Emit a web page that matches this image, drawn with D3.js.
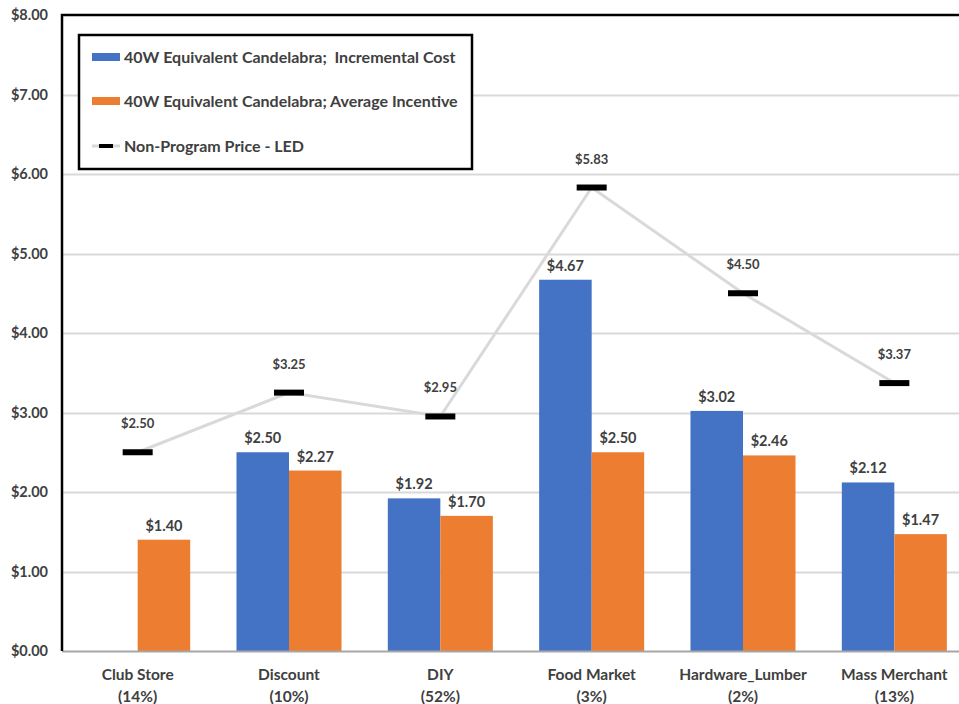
<!DOCTYPE html>
<html>
<head>
<meta charset="utf-8">
<script src="https://cdn.jsdelivr.net/npm/d3@7"></script>
<style>
  html, body { margin: 0; padding: 0; background: #fff; }
  svg { display: block; }
  text { font-family: Lato, "Open Sans", sans-serif; font-weight: bold; fill: #404040; }
</style>
</head>
<body>
<svg id="chart" width="959" height="704"></svg>
<script>
// Channel names and their share of sales
const categories = ["Club Store", "Discount", "DIY", "Food Market", "Hardware_Lumber", "Mass Merchant"];
const shares = ["(14%)", "(10%)", "(52%)", "(3%)", "(2%)", "(13%)"];
// 40W equivalent candelabra bulbs ($ per bulb)
const incrementalCost = [null, 2.50, 1.92, 4.67, 3.02, 2.12];
const averageIncentive = [1.40, 2.27, 1.70, 2.50, 2.46, 1.47];
const nonProgramPrice = [2.50, 3.25, 2.95, 5.83, 4.50, 3.37];
const yTicks = [0, 1, 2, 3, 4, 5, 6, 7, 8];
const seriesNames = ["40W Equivalent Candelabra;  Incremental Cost",
                     "40W Equivalent Candelabra; Average Incentive",
                     "Non-Program Price - LED"];

const blue = "#4472C4", orange = "#ED7D31", grid = "#d9d9d9";

const svg = d3.select("#chart");
const plotL = 62, plotR = 970, plotT = 15, plotB = 651;

const x = d3.scaleBand().domain(categories).range([plotL, plotR]);
const y = d3.scaleLinear().domain([0, 8]).range([plotB, plotT]);
const groupW = x.bandwidth() * 0.694;
const xs = d3.scaleBand().domain([0, 1]).range([0, groupW]);
const cx = c => x(c) + x.bandwidth() / 2;

// horizontal gridlines
svg.append("g").selectAll("line").data(yTicks.slice(1, -1)).join("line")
  .attr("x1", plotL).attr("x2", 959)
  .attr("y1", d => Math.round(y(d)) + 0.5).attr("y2", d => Math.round(y(d)) + 0.5)
  .attr("stroke", grid).attr("stroke-width", 2);

// y axis labels
const yAxis = d3.axisLeft(y).tickValues(yTicks).tickSize(0).tickPadding(14)
  .tickFormat(d => "$" + d3.format(".2f")(d));
const ya = svg.append("g").attr("transform", `translate(${plotL},0)`).call(yAxis);
ya.select(".domain").remove();
ya.selectAll("text").style("font-size", "14.5px").attr("fill", "#404040")
  .style("font-family", "Lato, sans-serif").style("font-weight", "bold");

// bars
const series = [incrementalCost, averageIncentive];
const colors = [blue, orange];
series.forEach((vals, si) => {
  const g = svg.append("g");
  const pts = categories.map((c, i) => ({ c, v: vals[i] })).filter(d => d.v != null);
  g.selectAll("rect").data(pts).join("rect")
    .attr("x", d => cx(d.c) - groupW / 2 + xs(si))
    .attr("width", xs.bandwidth())
    .attr("y", d => y(d.v))
    .attr("height", d => y(0) - y(d.v))
    .attr("fill", colors[si]);
  g.selectAll("text").data(pts).join("text")
    .attr("x", d => cx(d.c) - groupW / 2 + xs(si) + xs.bandwidth() / 2)
    .attr("y", d => y(d.v) - 9)
    .attr("text-anchor", "middle")
    .style("font-size", "14.5px")
    .text(d => "$" + d.v.toFixed(2));
});

// x axis baseline
svg.append("line").attr("x1", plotL).attr("x2", 959)
  .attr("y1", plotB + 0.5).attr("y2", plotB + 0.5)
  .attr("stroke", "#a6a6a6").attr("stroke-width", 2);

// non-program price line with dash markers
const line = d3.line().x((d, i) => cx(categories[i])).y(d => y(d));
svg.append("path").datum(nonProgramPrice).attr("d", line)
  .attr("fill", "none").attr("stroke", "#d9d9d9").attr("stroke-width", 3);
svg.append("g").selectAll("rect").data(nonProgramPrice).join("rect")
  .attr("x", (d, i) => cx(categories[i]) - 15).attr("width", 30)
  .attr("y", d => y(d) - 3).attr("height", 6).attr("fill", "#000");
svg.append("g").selectAll("text").data(nonProgramPrice).join("text")
  .attr("x", (d, i) => cx(categories[i])).attr("y", d => y(d) - 24)
  .attr("text-anchor", "middle").style("font-size", "13px")
  .text(d => "$" + d.toFixed(2));

// category labels
const xl = svg.append("g");
categories.forEach((c, i) => {
  const t = xl.append("text").attr("x", cx(c)).attr("text-anchor", "middle")
    .style("font-size", "15.5px").attr("fill", "#262626");
  t.append("tspan").attr("x", cx(c)).attr("y", 680).text(c);
  t.append("tspan").attr("x", cx(c)).attr("y", 702).text(shares[i]);
});

// plot frame (left and top)
svg.append("path").attr("d", `M${plotL},${plotB}V${plotT}H959`)
  .attr("fill", "none").attr("stroke", "#000").attr("stroke-width", 2.5);

// legend
const lg = svg.append("g");
lg.append("rect").attr("x", 79).attr("y", 35).attr("width", 393).attr("height", 134)
  .attr("fill", "#fff").attr("stroke", "#000").attr("stroke-width", 2.5);
const ly = [57, 101, 146];
[0, 1].forEach(i => {
  lg.append("rect").attr("x", 92).attr("y", ly[i] - 4).attr("width", 28).attr("height", 8)
    .attr("fill", colors[i]);
});
lg.append("line").attr("x1", 92).attr("x2", 120).attr("y1", ly[2]).attr("y2", ly[2])
  .attr("stroke", "#d9d9d9").attr("stroke-width", 3);
lg.append("rect").attr("x", 99).attr("y", ly[2] - 2).attr("width", 14).attr("height", 4).attr("fill", "#000");
seriesNames.forEach((s, i) => {
  lg.append("text").attr("x", 124).attr("y", ly[i] + 6).style("font-size", "16px")
    .attr("fill", "#000").style("white-space", "pre").attr("xml:space", "preserve").text(s);
});
</script>
</body>
</html>
